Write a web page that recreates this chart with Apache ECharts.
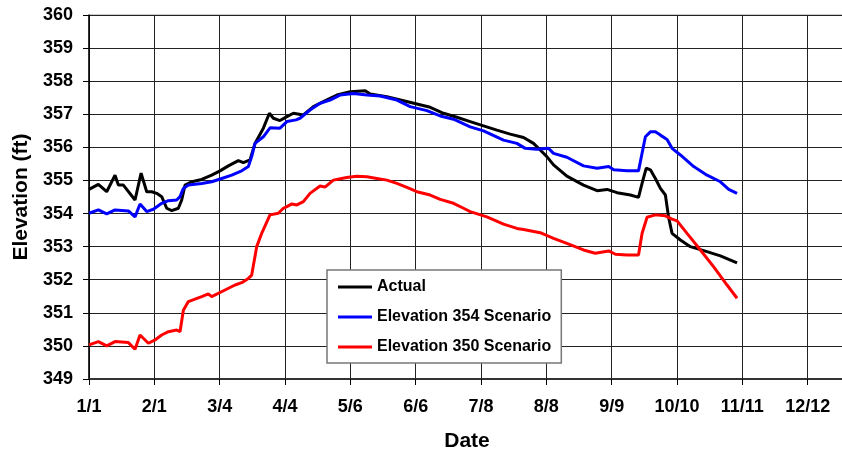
<!DOCTYPE html>
<html>
<head>
<meta charset="utf-8">
<script src="https://cdn.jsdelivr.net/npm/echarts@6/dist/echarts.min.js"></script>
<style>
  html, body {margin: 0; padding: 0; background: #fff;}
  #chart {width: 842px; height: 457px;}
</style>
</head>
<body>
<div id="chart"></div>
<script>
// x values are days counted from 1/1
var tickLabels = ['1/1', '2/1', '3/4', '4/4', '5/6', '6/6', '7/8', '8/8', '9/9', '10/10', '11/11', '12/12'];
var dayStep = 345 / 11;

var actualDays = [0, 4.5, 8.5, 12.5, 14.1, 16.5, 22.1, 25.0, 27.7, 30.1, 32.5, 34.9, 37.3, 39.7, 42.9, 44.5, 46.1, 49.3, 54.1, 58.9, 62.9, 66.9, 71.7, 74.1, 77.3, 79.7, 83.7, 86.6, 88.5, 91.7, 95.0, 98.1, 102.9, 107.7, 112.5, 119.0, 125.4, 132.6, 135.0, 143.0, 151.0, 157.4, 163.8, 170.2, 176.6, 183.0, 189.4, 195.8, 202.2, 208.6, 213.4, 216.6, 219.8, 223.0, 229.4, 237.4, 243.9, 248.7, 253.5, 259.9, 263.8, 265.5, 267.5, 269.5, 271.9, 274.3, 276.7, 278.2, 279.9, 283.9, 288.7, 295.1, 303.1, 311.1];
var actualElev = [354.73, 354.88, 354.66, 355.16, 354.86, 354.86, 354.41, 355.22, 354.66, 354.66, 354.61, 354.51, 354.16, 354.09, 354.16, 354.41, 354.86, 354.96, 355.03, 355.16, 355.29, 355.44, 355.60, 355.54, 355.62, 356.12, 356.58, 357.03, 356.88, 356.81, 356.93, 357.03, 356.98, 357.23, 357.38, 357.58, 357.68, 357.71, 357.61, 357.53, 357.41, 357.31, 357.21, 357.03, 356.91, 356.78, 356.65, 356.52, 356.40, 356.30, 356.12, 355.92, 355.72, 355.47, 355.13, 354.86, 354.69, 354.73, 354.63, 354.56, 354.49, 354.91, 355.37, 355.32, 355.06, 354.76, 354.56, 353.90, 353.40, 353.20, 353.00, 352.88, 352.72, 352.51];

var s354Days = [0, 4.5, 8.5, 12.5, 18.9, 22.1, 24.5, 27.7, 30.9, 34.9, 38.1, 42.1, 43.7, 45.3, 47.7, 54.1, 58.9, 63.7, 68.5, 73.3, 76.5, 78.1, 79.7, 83.7, 86.9, 91.7, 95.0, 99.4, 101.3, 106.1, 110.9, 115.7, 120.5, 126.9, 133.4, 139.8, 147.8, 154.2, 162.2, 168.6, 175.0, 183.0, 189.4, 199.0, 205.4, 209.4, 215.0, 220.6, 223.0, 229.4, 237.4, 243.9, 249.5, 251.9, 258.3, 263.8, 265.5, 267.1, 269.5, 271.9, 274.3, 277.5, 279.9, 283.9, 290.3, 296.7, 303.1, 307.1, 311.1];
var s354Elev = [354.01, 354.11, 353.99, 354.11, 354.08, 353.90, 354.29, 354.06, 354.13, 354.31, 354.39, 354.41, 354.51, 354.76, 354.86, 354.91, 354.96, 355.06, 355.16, 355.29, 355.42, 355.72, 356.12, 356.32, 356.59, 356.58, 356.78, 356.83, 356.88, 357.13, 357.33, 357.43, 357.58, 357.63, 357.58, 357.55, 357.43, 357.23, 357.11, 356.95, 356.85, 356.62, 356.50, 356.22, 356.12, 355.97, 355.94, 355.97, 355.82, 355.70, 355.44, 355.37, 355.42, 355.32, 355.29, 355.29, 355.82, 356.32, 356.47, 356.47, 356.37, 356.24, 355.97, 355.77, 355.42, 355.16, 354.96, 354.73, 354.61];

var s350Days = [0, 4.5, 8.5, 12.5, 18.9, 22.1, 24.5, 28.5, 31.7, 34.9, 38.1, 42.1, 43.7, 45.3, 47.7, 54.1, 57.3, 58.9, 65.3, 70.1, 73.3, 76.5, 78.1, 80.5, 82.9, 86.9, 90.9, 93.3, 95.0, 97.4, 99.8, 102.9, 106.1, 110.9, 113.3, 117.3, 123.7, 128.5, 133.4, 138.2, 143.0, 147.8, 152.6, 157.4, 163.8, 168.6, 175.0, 179.8, 183.0, 191.0, 199.0, 205.4, 208.6, 216.6, 223.0, 229.4, 237.4, 243.0, 249.5, 252.7, 258.3, 263.8, 265.5, 267.9, 271.9, 276.7, 279.9, 282.3, 287.1, 293.5, 299.9, 306.3, 311.1];
var s350Elev = [350.03, 350.13, 350.00, 350.13, 350.10, 349.90, 350.33, 350.08, 350.18, 350.33, 350.43, 350.48, 350.43, 351.08, 351.34, 351.49, 351.57, 351.49, 351.69, 351.84, 351.91, 352.04, 352.14, 353.00, 353.40, 353.96, 354.01, 354.16, 354.21, 354.29, 354.26, 354.36, 354.61, 354.83, 354.80, 355.01, 355.09, 355.13, 355.11, 355.06, 355.01, 354.91, 354.79, 354.66, 354.56, 354.43, 354.31, 354.16, 354.06, 353.90, 353.68, 353.55, 353.52, 353.42, 353.25, 353.10, 352.90, 352.80, 352.87, 352.77, 352.75, 352.75, 353.40, 353.89, 353.96, 353.93, 353.83, 353.78, 353.40, 352.90, 352.39, 351.84, 351.44];

function pairs(xs, ys) {
    return xs.map(function(x, i) { return [x, ys[i]]; });
}

var font = 'Liberation Sans, Arial, sans-serif';
var myChart = echarts.init(document.getElementById('chart'));

option = {
    animation: false,
    backgroundColor: '#fff',
    grid: {
        left: 89,
        top: 15,
        right: -31,
        bottom: 78,
        outerBoundsMode: 'none',
        show: true,
        borderColor: '#999',
        borderWidth: 1
    },
    legend: {
        orient: 'vertical',
        left: 327,
        top: 270,
        padding: [9, 10, 8, 11],
        icon: 'rect',
        itemWidth: 34,
        itemHeight: 3,
        itemGap: 14,
        backgroundColor: '#fff',
        borderColor: '#777',
        borderWidth: 1.5,
        textStyle: {fontFamily: font, fontWeight: 'bold', fontSize: 16, color: '#000'},
        data: ['Actual', 'Elevation 354 Scenario', 'Elevation 350 Scenario']
    },
    xAxis: {
        type: 'value',
        min: 0,
        max: dayStep * 12,
        interval: dayStep,
        name: 'Date',
        nameLocation: 'middle',
        nameGap: 52,
        nameTextStyle: {fontFamily: font, fontWeight: 'bold', fontSize: 21, color: '#000', padding: [0, 28, 0, 0]},
        axisLine: {show: true, onZero: false, lineStyle: {color: '#333', width: 2}},
        axisTick: {show: true, length: 6, lineStyle: {color: '#000'}},
        axisLabel: {
            margin: 19,
            fontFamily: font, fontWeight: 'bold', fontSize: 18, color: '#000',
            formatter: function(v) {
                var idx = Math.round(v / dayStep);
                if (Math.abs(v - idx * dayStep) > 0.01) return '';
                return tickLabels[idx] || '';
            }
        },
        splitLine: {show: true, lineStyle: {color: '#222', width: 1}}
    },
    yAxis: {
        type: 'value',
        min: 349,
        max: 360,
        interval: 1,
        name: 'Elevation (ft)',
        nameLocation: 'middle',
        nameGap: 56,
        nameTextStyle: {fontFamily: font, fontWeight: 'bold', fontSize: 21, color: '#000'},
        axisLine: {show: true, lineStyle: {color: '#000', width: 1.5}},
        axisTick: {show: true, length: 6, lineStyle: {color: '#000'}},
        axisLabel: {margin: 16, fontFamily: font, fontWeight: 'bold', fontSize: 18, color: '#000'},
        splitLine: {show: true, lineStyle: {color: '#222', width: 1}}
    },
    series: [
        {
            name: 'Actual',
            type: 'line',
            symbol: 'none',
            lineStyle: {color: '#000', width: 3},
            itemStyle: {color: '#000'},
            data: pairs(actualDays, actualElev)
        },
        {
            name: 'Elevation 354 Scenario',
            type: 'line',
            symbol: 'none',
            lineStyle: {color: '#0000ff', width: 3},
            itemStyle: {color: '#0000ff'},
            data: pairs(s354Days, s354Elev)
        },
        {
            name: 'Elevation 350 Scenario',
            type: 'line',
            symbol: 'none',
            lineStyle: {color: '#ff0000', width: 3},
            itemStyle: {color: '#ff0000'},
            data: pairs(s350Days, s350Elev)
        }
    ]
};

myChart.setOption(option);
</script>
</body>
</html>
